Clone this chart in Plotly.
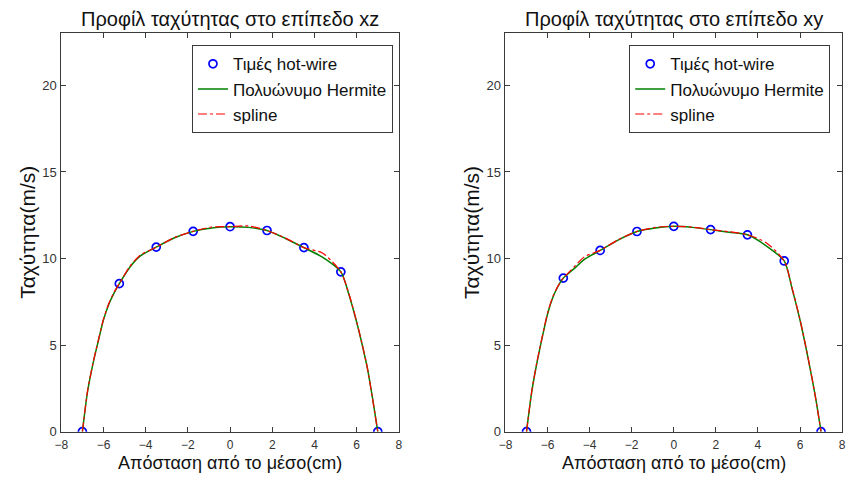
import plotly.graph_objects as go

# ---- data ----
x_pts = [-7, -5.25, -3.5, -1.75, 0, 1.75, 3.5, 5.25, 7]
xz_pts = [0, 8.55, 10.66, 11.57, 11.84, 11.62, 10.63, 9.23, 0]
xy_pts = [0, 8.87, 10.47, 11.56, 11.86, 11.67, 11.37, 9.86, 0]

curve_x = [-7, -6.75, -6.5, -6.25, -6, -5.75, -5.5, -5.25, -4.75, -4.25, -3.5,
           -2.625, -1.75, -0.875, 0, 0.875, 1.75, 2.625, 3.5, 4.375, 5.25,
           5.625, 6, 6.25, 6.5, 6.75, 7]
xz_hermite = [0, 2.35, 3.92, 5.22, 6.46, 7.35, 8.0, 8.55, 9.5, 10.15, 10.66,
              11.2, 11.57, 11.77, 11.84, 11.8, 11.62, 11.16, 10.63, 10.08, 9.23,
              7.95, 6.32, 5.08, 3.71, 1.95, 0]
xz_spline = [0, 2.4, 3.95, 5.25, 6.5, 7.4, 8.05, 8.55, 9.55, 10.2, 10.66,
             11.22, 11.57, 11.82, 11.84, 11.88, 11.62, 11.18, 10.63, 10.32, 9.23,
             8.0, 6.35, 5.1, 3.72, 1.92, 0]
xy_hermite = [0, 2.31, 4.01, 5.46, 6.8, 7.75, 8.4, 8.87, 9.4, 9.95, 10.47,
              11.08, 11.56, 11.76, 11.86, 11.8, 11.67, 11.52, 11.37, 10.75, 9.86,
              8.25, 6.45, 5.05, 3.53, 1.9, 0]
xy_spline = [0, 2.35, 4.05, 5.5, 6.85, 7.8, 8.42, 8.87, 9.5, 10.1, 10.47,
             11.1, 11.56, 11.8, 11.86, 11.82, 11.67, 11.55, 11.37, 10.93, 9.86,
             8.3, 6.48, 5.07, 3.55, 1.88, 0]

titles = ["Προφίλ ταχύτητας στο επίπεδο xz", "Προφίλ ταχύτητας στο επίπεδο xy"]
xlabel = "Απόσταση από το μέσο(cm)"
ylabel = "Ταχύτητα(m/s)"
names = ["Τιμές hot-wire", "Πολυώνυμο Hermite", "spline"]
xticks = [-8, -6, -4, -2, 0, 2, 4, 6, 8]
yticks = [0, 5, 10, 15, 20]

W, H = 852, 481
FONT = "Arial, Liberation Sans, sans-serif"
AX = "#3a3a3a"
TXT = "#111111"

fig = go.Figure()

panels = [
    (xz_pts, xz_hermite, xz_spline, "x", "y", "legend", (55, 397)),
    (xy_pts, xy_hermite, xy_spline, "x2", "y2", "legend2", (505, 846)),
]

for pts, herm, spl, xa, ya, leg, _ in panels:
    fig.add_trace(go.Scatter(x=x_pts, y=pts, mode="markers", name=names[0],
                             xaxis=xa, yaxis=ya, legend=leg,
                             marker=dict(symbol="circle-open", size=8, color="#0000ff",
                                         line=dict(width=1.7, color="#0000ff"))))
    fig.add_trace(go.Scatter(x=curve_x, y=herm, mode="lines", name=names[1],
                             xaxis=xa, yaxis=ya, legend=leg,
                             line=dict(color="#008000", width=1.5, shape="spline", smoothing=0.7)))
    fig.add_trace(go.Scatter(x=curve_x, y=spl, mode="lines", name=names[2],
                             xaxis=xa, yaxis=ya, legend=leg,
                             line=dict(color="#ff0000", width=1.2, dash="dashdot",
                                       shape="spline", smoothing=0.7)))

top, bot = 34, 439
ydom = [1 - bot / H, 1 - top / H]

def xaxis_cfg(px, anchor):
    return dict(domain=[px[0] / W, px[1] / W], range=[-8, 8], tickvals=xticks,
                anchor=anchor, ticks="inside", ticklen=5, tickcolor=AX,
                showline=True, linecolor=AX, linewidth=1, mirror="ticks",
                showgrid=False, zeroline=False, ticklabelstandoff=2,
                tickfont=dict(size=12, color="#333333", family=FONT), fixedrange=True)

def yaxis_cfg(anchor):
    return dict(domain=ydom, range=[0, 23], tickvals=yticks, anchor=anchor,
                ticks="inside", ticklen=5, tickcolor=AX, showline=True, linecolor=AX,
                linewidth=1, mirror="ticks", showgrid=False, zeroline=False,
                ticklabelstandoff=1,
                tickfont=dict(size=13, color="#333333", family=FONT), fixedrange=True)

leg_common = dict(xanchor="right", yanchor="top", bgcolor="white", bordercolor=AX,
                  borderwidth=1, font=dict(size=17, family=FONT, color=TXT),
                  tracegroupgap=0, itemwidth=30)

fig.update_layout(
    width=W, height=H, margin=dict(l=0, r=0, t=0, b=0),
    paper_bgcolor="white", plot_bgcolor="white",
    font=dict(family=FONT),
    xaxis=xaxis_cfg(panels[0][6], "y"), yaxis=yaxis_cfg("x"),
    xaxis2=xaxis_cfg(panels[1][6], "y2"), yaxis2=yaxis_cfg("x2"),
    legend=dict(leg_common, x=391 / W, y=1 - 46 / H),
    legend2=dict(leg_common, x=834 / W, y=1 - 46 / H),
    showlegend=True,
)

anns = []
for i, (cx, ax_left) in enumerate([(226, 55), (675.5, 505)]):
    anns.append(dict(text=titles[i], x=cx / W, y=1 - 19 / H, xref="paper", yref="paper",
                     showarrow=False, xanchor="center", yanchor="middle",
                     font=dict(size=20, family=FONT, color=TXT)))
    anns.append(dict(text=xlabel, x=cx / W, y=1 - 471 / H, xref="paper", yref="paper",
                     showarrow=False, xanchor="center", yanchor="middle",
                     font=dict(size=18, family=FONT, color=TXT)))
    anns.append(dict(text=ylabel, x=(ax_left - 35) / W, y=1 - 236 / H, xref="paper",
                     yref="paper", showarrow=False, xanchor="center", yanchor="middle",
                     textangle=-90, font=dict(size=21, family=FONT, color=TXT)))
fig.update_layout(annotations=anns)

fig.write_html("out.html")
